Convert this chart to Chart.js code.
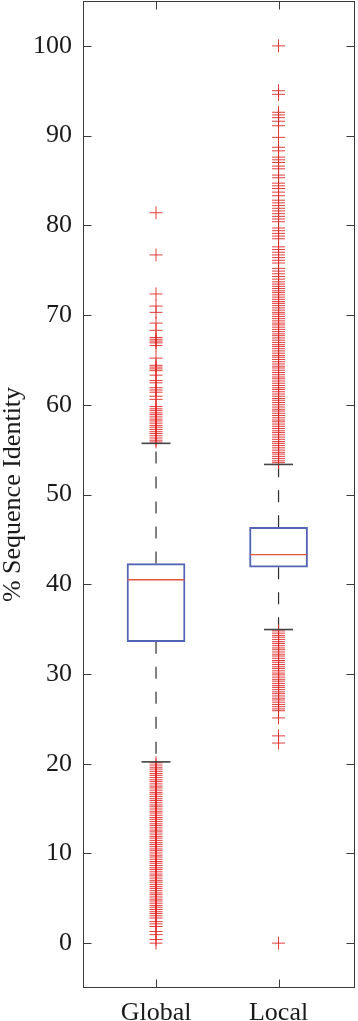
<!DOCTYPE html>
<html>
<head>
<meta charset="utf-8">
<script src="https://cdn.jsdelivr.net/npm/chart.js@4/dist/chart.umd.min.js"></script>
<style>
  html, body { margin: 0; padding: 0; background: #ffffff; }
  #wrap { width: 358px; height: 1021px; position: relative; }
</style>
</head>
<body>
<div id="wrap"><canvas id="c"></canvas></div>
<script>
// ---- data ----
const categories = ['Global', 'Local'];
const q1 = [33.6, 41.9];
const median = [40.5, 43.3];
const q3 = [42.3, 46.35];
const whiskerLow = [20.2, 34.95];
const whiskerHigh = [55.7, 53.35];
const yTicks = [0, 10, 20, 30, 40, 50, 60, 70, 80, 90, 100];

const globalOutliers = [
  81.4, 76.7, 72.35, 71.0, 70.3, 69.1, 68.3, 67.5, 67.3, 67.1, 66.9, 66.6, 65.2,
  64.4, 64.2, 64.0, 63.8, 63.3, 62.7, 62.45, 61.9, 61.65, 61.4, 60.95, 60.6,
  59.8, 59.55, 59.35, 59.1, 58.9, 58.65, 58.4, 58.2, 57.95, 57.7, 57.5, 57.25,
  57.0, 56.8, 56.55, 56.3, 56.05, 55.85,
  20.1, 19.85, 19.6, 19.4, 19.15, 18.9, 18.7, 18.45, 18.2, 18.0, 17.75, 17.5,
  17.3, 17.05, 16.8, 16.6, 16.35, 16.1, 15.9, 15.65, 15.4, 15.2, 14.95, 14.7,
  14.5, 14.25, 14.0, 13.8, 13.55, 13.3, 13.1, 12.85, 12.6, 12.4, 12.15, 11.9,
  11.7, 11.45, 11.2, 11.0, 10.75, 10.5, 10.3, 10.05, 9.8, 9.6, 9.35, 9.1, 8.9,
  8.65, 8.4, 8.2, 7.95, 7.7, 7.5, 7.25, 7.0, 6.8, 6.55, 6.3, 6.1, 5.85, 5.6,
  5.4, 5.15, 4.9, 4.7, 4.45, 4.2, 4.0, 3.75, 3.5, 3.3, 3.05, 2.8, 2.4, 2.15,
  1.85, 1.3, 0.95, 0.4, 0.0
];

const localOutliers = [
  100.0, 95.0, 94.6, 92.6, 92.3, 92.0, 91.6, 91.1, 89.8, 88.7, 88.3, 87.6, 87.3,
  87.0, 86.6, 86.3, 85.6, 85.3, 84.7, 84.4, 84.1, 83.7, 83.3, 82.8, 82.5, 82.2,
  81.9, 81.6, 81.3, 81.0, 80.7, 80.4, 79.7, 79.4, 79.1, 78.8, 78.5, 77.6, 77.3,
  77.0, 76.7, 76.4, 76.1, 75.8, 75.2, 74.9, 74.6, 74.3, 74.0,
  73.7, 73.45, 73.2, 72.95, 72.7, 72.5, 72.25, 72.0, 71.75, 71.5, 71.3, 71.05,
  70.8, 70.55, 70.3, 70.1, 69.85, 69.6, 69.35, 69.1, 68.9, 68.65, 68.4, 68.15,
  67.9, 67.7, 67.45, 67.2, 66.95, 66.7, 66.5, 66.25, 66.0, 65.75, 65.5, 65.3,
  65.05, 64.8, 64.55, 64.3, 64.1, 63.85, 63.6, 63.35, 63.1, 62.9, 62.65, 62.4,
  62.15, 61.9, 61.7, 61.45, 61.2, 60.95, 60.7, 60.5, 60.25, 60.0, 59.75, 59.5,
  59.3, 59.05, 58.8, 58.55, 58.3, 58.1, 57.85, 57.6, 57.35, 57.1, 56.9, 56.65,
  56.4, 56.15, 55.9, 55.7, 55.45, 55.2, 54.95, 54.7, 54.5, 54.25, 54.0, 53.75,
  53.55,
  34.8, 34.55, 34.3, 34.1, 33.85, 33.6, 33.4, 33.15, 32.9, 32.7, 32.45, 32.2,
  32.0, 31.75, 31.5, 31.3, 31.05, 30.8, 30.6, 30.35, 30.1, 29.9, 29.65, 29.4,
  29.2, 28.95, 28.7, 28.5, 28.25, 28.0, 27.8, 27.55, 27.3, 27.1, 26.85, 26.6,
  26.35, 26.1, 25.9, 25.1, 23.1, 22.3, 0.0
];

// ---- styling ----
const FONT = "'Liberation Serif', 'DejaVu Serif', serif";
const AXIS = '#3a3a3a';
const BOX = '#5464b4';
const MED = '#e4553f';
const OUT = 'rgba(226,44,44,0.92)';
const WHISK = '#2e2e2e';

const pos = categories.map((_, i) => i + 1);
const outlierSets = [globalOutliers, localOutliers];

const datasets = [];
outlierSets.forEach((arr, i) => {
  datasets.push({
    type: 'scatter',
    data: arr.map(v => ({ x: pos[i], y: v })),
    pointStyle: 'cross',
    pointRadius: 6.5,
    borderColor: OUT,
    backgroundColor: OUT,
    pointBorderWidth: 1,
    order: 1
  });
});
pos.forEach((p, i) => {
  [[q3[i], whiskerHigh[i]], [q1[i], whiskerLow[i]]].forEach(pair => {
    datasets.push({
      type: 'scatter',
      showLine: true,
      data: [{ x: p, y: pair[0] }, { x: p, y: pair[1] }],
      borderColor: WHISK,
      borderWidth: 1.2,
      borderDash: [12, 13],
      pointRadius: 0,
      order: 3
    });
  });
});
datasets.push({
  type: 'scatter',
  data: pos.flatMap((p, i) => [{ x: p, y: whiskerHigh[i] }, { x: p, y: whiskerLow[i] }]),
  pointStyle: 'line',
  pointRadius: 14.5,
  borderColor: '#444444',
  pointBorderWidth: 1.6,
  order: 0
});
datasets.push({
  type: 'scatter',
  data: pos.map((p, i) => ({ x: p, y: median[i] })),
  pointStyle: 'line',
  pointRadius: 28.5,
  borderColor: MED,
  pointBorderWidth: 1.3,
  order: 0
});
datasets.push({
  type: 'bar',
  data: pos.map((p, i) => ({ x: p, y: [q1[i], q3[i]] })),
  backgroundColor: 'rgba(0,0,0,0)',
  borderColor: BOX,
  borderWidth: 1.3,
  borderSkipped: false,
  barThickness: 58,
  order: 2
});

const frame = {
  id: 'frame',
  afterDraw(chart) {
    const { ctx, chartArea: a, scales } = chart;
    ctx.save();
    ctx.strokeStyle = AXIS;
    ctx.lineWidth = 1;
    const L = Math.round(a.left) + 0.5, R = Math.round(a.right) - 0.5;
    const T = Math.round(a.top) + 0.5, B = Math.round(a.bottom) - 0.5;
    ctx.strokeRect(L, T, R - L, B - T);
    const tl = 8;
    ctx.beginPath();
    scales.y.ticks.forEach(t => {
      const y = Math.round(scales.y.getPixelForValue(t.value)) + 0.5;
      ctx.moveTo(L, y); ctx.lineTo(L + tl, y);
      ctx.moveTo(R, y); ctx.lineTo(R - tl, y);
    });
    scales.x.ticks.forEach(t => {
      const x = Math.round(scales.x.getPixelForValue(t.value)) + 0.5;
      ctx.moveTo(x, T); ctx.lineTo(x, T + tl);
      ctx.moveTo(x, B); ctx.lineTo(x, B - tl);
    });
    ctx.stroke();
    ctx.restore();
  }
};

const bg = {
  id: 'bg',
  beforeDraw(chart) {
    const { ctx } = chart;
    ctx.save();
    ctx.fillStyle = '#ffffff';
    ctx.fillRect(0, 0, chart.width, chart.height);
    ctx.restore();
  }
};

new Chart(document.getElementById('c'), {
  type: 'bar',
  data: { datasets },
  options: {
    responsive: true,
    maintainAspectRatio: false,
    animation: false,
    events: [],
    layout: { autoPadding: false, padding: { top: 1, right: 3, left: 0, bottom: 0 } },
    plugins: { legend: { display: false }, tooltip: { enabled: false } },
    scales: {
      x: {
        type: 'linear',
        min: 0.404,
        max: 2.624,
        offset: false,
        grid: { display: false, drawTicks: false },
        border: { display: false },
        afterBuildTicks: s => { s.ticks = pos.map(v => ({ value: v })); },
        afterFit: s => { s.height = 33; s.paddingLeft = 0; s.paddingRight = 0; },
        ticks: {
          padding: 10,
          color: '#1a1a1a',
          font: { family: FONT, size: 26 },
          callback: v => categories[Math.round(v) - 1] || ''
        }
      },
      y: {
        type: 'linear',
        min: -5,
        max: 105,
        grid: { display: false, drawTicks: false },
        border: { display: false },
        afterBuildTicks: s => { s.ticks = yTicks.map(v => ({ value: v })); },
        afterFit: s => { s.width = 83; s.paddingTop = 0; s.paddingBottom = 0; },
        ticks: {
          padding: 11,
          color: '#1a1a1a',
          font: { family: FONT, size: 26 }
        },
        title: {
          display: true,
          text: '% Sequence Identity',
          color: '#1a1a1a',
          font: { family: FONT, size: 26, lineHeight: 1 },
          padding: { top: 0, bottom: 0 }
        }
      }
    }
  },
  plugins: [bg, frame]
});
</script>
</body>
</html>
